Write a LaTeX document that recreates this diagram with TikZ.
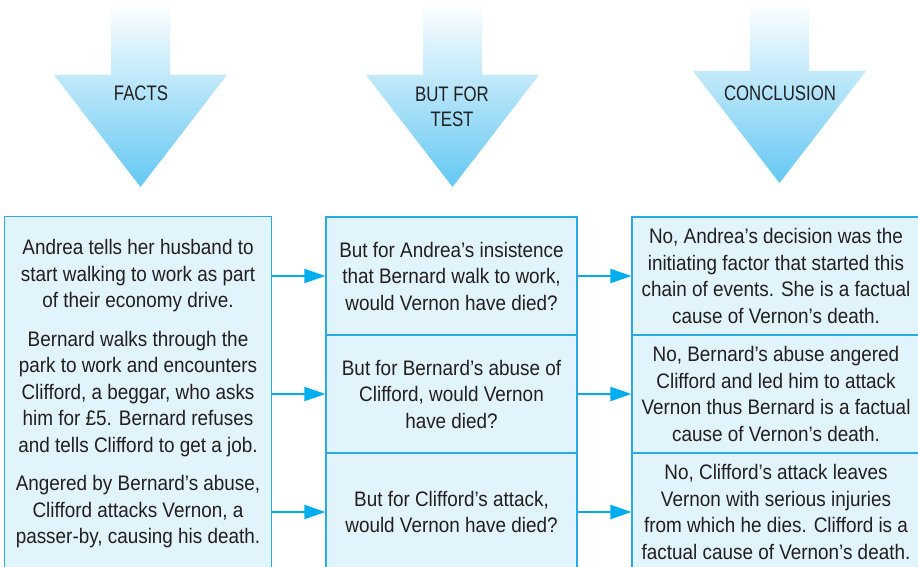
\documentclass[tikz,border=0pt]{standalone}
\usepackage{fontspec}
\setmainfont[FakeStretch=0.9]{Liberation Sans}
\newfontfamily\headfont[FakeStretch=0.8]{Liberation Sans}
\usetikzlibrary{arrows.meta,backgrounds}
\definecolor{cellfill}{HTML}{E1F3FB}
\definecolor{cellline}{HTML}{29ABE2}
\definecolor{linkcol}{HTML}{00AEEF}
\definecolor{headcol}{RGB}{100,200,242}
\definecolor{ink}{HTML}{231F20}
\begin{document}
\begin{tikzpicture}[x=1pt,y=-1pt,
  cell/.style={rectangle, inner sep=0pt, minimum height=118pt,
    align=center, text=ink, font=\fontsize{21}{26.5}\selectfont},
  framed/.style={cell, fill=cellfill, draw=cellline, line width=1.2pt},
  link/.style={draw=linkcol, line width=2pt, -{Triangle[length=21pt,width=14pt]}},
  heading/.style={text=ink, align=center, font=\headfont\fontsize{21}{25}\selectfont}
]
\useasboundingbox (0,0) rectangle (918,567);
\clip (0,0) rectangle (918,567);

% shaded downward arrows above the three columns
\foreach \cx/\hy/\ty in {140.5/75/187, 452.5/75/187, 779.5/71/183} {
  \shade[top color=white, bottom color=headcol]
    ({\cx-29.5},2) -- ({\cx+29.5},2) -- ({\cx+29.5},\hy) -- ({\cx+86.5},\hy)
    -- (\cx,\ty) -- ({\cx-86.5},\hy) -- ({\cx-29.5},\hy) -- cycle;
}
\node[heading] (hfacts) at (141,93) {FACTS};
\node[heading] (htest) at (452,107) {BUT FOR\\TEST};
\node[heading] (hconc) at (780,93) {CONCLUSION};

% facts column: one frame, no inner rules
\node[cell, minimum width=266pt] (l1) at (138,276)
  {Andrea tells her husband to\\start walking to work as part\\of their economy drive.};
\node[cell, minimum width=266pt] (l2) at (138,394)
  {Bernard walks through the\\park to work and encounters\\Clifford, a beggar, who asks\\him for £5. Bernard refuses\\and tells Clifford to get a job.};
\node[cell, minimum width=266pt] (l3) at (138,512)
  {Angered by Bernard’s abuse,\\Clifford attacks Vernon, a\\passer-by, causing his death.};
\begin{scope}[on background layer]
  \draw[fill=cellfill, draw=cellline, line width=1.2pt]
    (l1.north west) rectangle (l3.south east);
\end{scope}

% but-for column
\node[framed, minimum width=251pt] (m1) at (451.5,276)
  {But for Andrea’s insistence\\that Bernard walk to work,\\would Vernon have died?};
\node[framed, minimum width=251pt] (m2) at (451.5,394)
  {But for Bernard’s abuse of\\Clifford, would Vernon\\have died?};
\node[framed, minimum width=251pt] (m3) at (451.5,512)
  {But for Clifford’s attack,\\would Vernon have died?};

% conclusion column
\node[framed, minimum width=288pt] (r1) at (776,276)
  {No, Andrea’s decision was the\\initiating factor that started this\\chain of events. She is a factual\\cause of Vernon’s death.};
\node[framed, minimum width=288pt] (r2) at (776,394)
  {No, Bernard’s abuse angered\\Clifford and led him to attack\\Vernon thus Bernard is a factual\\cause of Vernon’s death.};
\node[framed, minimum width=288pt] (r3) at (776,512)
  {No, Clifford’s attack leaves\\Vernon with serious injuries\\from which he dies. Clifford is a\\factual cause of Vernon’s death.};

% connectors
\foreach \i in {1,2,3} {
  \draw[link] (l\i.east) -- (m\i.west);
  \draw[link] (m\i.east) -- (r\i.west);
}
\end{tikzpicture}
\end{document}
